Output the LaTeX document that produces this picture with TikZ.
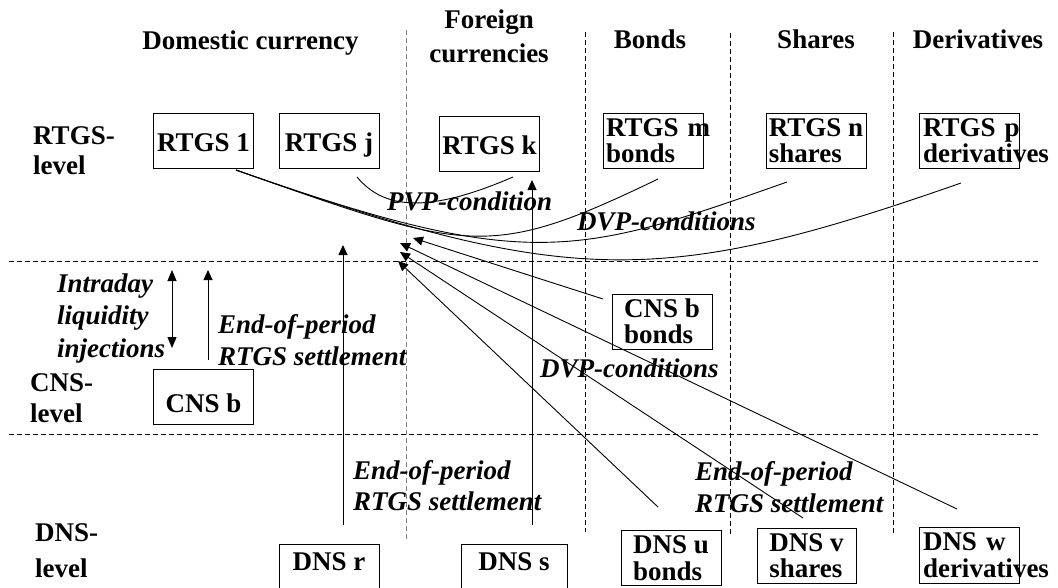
\documentclass[tikz,border=0pt]{standalone}
\usepackage{fontspec}
\setmainfont{Liberation Serif}
\usetikzlibrary{arrows.meta}
\begin{document}
\begin{tikzpicture}[x=1pt,y=-1pt,
  every node/.style={inner sep=0pt},
  hdr/.style={font=\bfseries\fontsize{27}{34}\selectfont, align=center, anchor=base},
  rowlbl/.style={align=left, anchor=base west},
  note/.style={align=left, anchor=base west},
  box/.style={draw, line width=0.9pt, minimum width=100pt, minimum height=55pt, font=\bfseries\fontsize{27}{26.5}\selectfont},
  boxs/.style={draw, line width=0.9pt, minimum width=100pt, anchor=base, font=\bfseries\fontsize{27}{26.5}\selectfont},
  boxc/.style={box, align=center},
  boxl/.style={box, align=left},
  boxw/.style={box, text width=94pt, inner xsep=3pt, align=left},
  gridline/.style={line width=0.8pt, dash pattern=on 5pt off 3pt},
  conn/.style={line width=0.9pt},
  arr/.style={line width=0.9pt, -{Triangle[length=10pt,width=9pt]}},
  darr/.style={line width=0.9pt, {Triangle[length=11pt,width=9pt]}-{Triangle[length=11pt,width=9pt]}}
]
\useasboundingbox (0,0) rectangle (1058,587);
\clip (0,0) rectangle (1058,587);

% grid
\draw[gridline, gray] (406,30) -- (406,541);
\draw[gridline] (585,32) -- (585,532);
\draw[gridline] (730,33) -- (730,535);
\draw[gridline] (893,32) -- (893,535);
\draw[gridline] (9,261) -- (1038,261);
\draw[gridline] (9,434) -- (1038,434);

% headers
\node[hdr] (hdom) at (250.5,49) {Domestic currency};
\node[hdr] (hfor) at (489,62) {Foreign\\currencies};
\node[hdr] (hbon) at (650,48) {Bonds};
\node[hdr] (hsha) at (816,48) {Shares};
\node[hdr] (hder) at (978,48) {Derivatives};

% row labels
\node[rowlbl, font=\bfseries\fontsize{27}{30}\selectfont] (lrtgs) at (33,174) {RTGS-\\level};
\node[rowlbl, font=\bfseries\fontsize{27}{31}\selectfont] (lcns) at (30,422) {CNS-\\level};
\node[rowlbl, font=\bfseries\fontsize{27}{36}\selectfont] (ldns) at (35,577) {DNS-\\level};

% RTGS boxes
\node[boxs, text height=38pt, text depth=17pt] (r1) at (203.5,151) {RTGS 1};
\node[boxs, text height=38pt, text depth=17pt] (rj) at (329,151) {RTGS j};
\node[boxs, text height=38pt, text depth=17pt] (rk) at (489.5,154) {RTGS k};
\node[boxw] (rm) at (653,140.5) {\mbox{RTGS m}\\bonds};
\node[boxl] (rn) at (816,140.5) {RTGS n\\shares};
\node[boxw, text width=93pt] (rp) at (969.5,140.5) {\mbox{RTGS p}\\\mbox{derivatives}};

% CNS boxes
\node[boxs, text height=43pt, text depth=12pt] (cb) at (203.5,412) {CNS b};
\node[boxl] (cbb) at (662,321.5) {CNS b\\bonds};

% DNS boxes
\node[boxs, text height=26pt, text depth=20pt] (dr) at (329,570) {DNS r};
\node[boxs, minimum width=106pt, text height=26pt, text depth=20pt] (ds) at (514,570) {DNS s};
\node[boxl] (du) at (671,558) {DNS u\\bonds};
\node[boxl, minimum width=99pt] (dv) at (806.5,555.5) {DNS v\\shares};
\node[boxw, text width=93pt, minimum height=56pt] (dw) at (969.5,555) {\mbox{DNS w}\\\mbox{derivatives}};

% labels
\node[note, font=\bfseries\itshape\fontsize{27}{32}\selectfont] (pvp) at (387,210) {PVP-condition};
\node[note, font=\bfseries\itshape\fontsize{27}{32}\selectfont] (dvp1) at (577,230) {DVP-conditions};
\node[note, font=\bfseries\itshape\fontsize{27}{32}\selectfont] (dvp2) at (540,377) {DVP-conditions};
\node[note, font=\bfseries\itshape\fontsize{27}{32.5}\selectfont] (intra) at (57,357) {Intraday\\liquidity\\injections};
\node[note, font=\bfseries\itshape\fontsize{27}{32}\selectfont] (eop1) at (218,365) {End-of-period\\RTGS settlement};
\node[note, font=\bfseries\itshape\fontsize{27}{31}\selectfont] (eop2) at (353,510) {End-of-period\\RTGS settlement};
\node[note, font=\bfseries\itshape\fontsize{27}{32}\selectfont] (eop3) at (695,512) {End-of-period\\RTGS settlement};

% connector end points
\coordinate (s1) at (236,170);
\coordinate (ejp) at (357,177);
\coordinate (ekp) at (513,177);
\coordinate (em) at (658,179);
\coordinate (en) at (787,182);
\coordinate (ep) at (961,183);
\coordinate (iT) at (172,270);
\coordinate (iB) at (172,348);
\coordinate (cS) at (208,360);
\coordinate (cT) at (208,270);
\coordinate (rS) at (343,525);
\coordinate (rT) at (343,245);
\coordinate (sS) at (532,525);
\coordinate (sT) at (532,180);
\coordinate (uS) at (658,507);
\coordinate (uT) at (398,261);
\coordinate (vS) at (803,518);
\coordinate (vT) at (400,252);
\coordinate (wS) at (957,509);
\coordinate (wT) at (400,243);
\coordinate (bS) at (603,299);
\coordinate (bT) at (413,238);

% PVP and DVP curves
\draw[conn] (ejp) .. controls (383,208) and (425,215) .. (ekp);
\draw[conn] (s1) .. controls (468,252) and (488,261) .. (em);
\draw[conn] (s1) .. controls (528,273) and (577,256) .. (en);
\draw[conn] (s1) .. controls (568,287) and (661,288) .. (ep);

% arrows
\draw[darr] (iT) -- (iB);
\draw[arr] (cS) -- (cT);
\draw[arr] (rS) -- (rT);
\draw[arr] (sS) -- (sT);
\draw[arr] (uS) -- (uT);
\draw[arr] (vS) -- (vT);
\draw[arr] (wS) -- (wT);
\draw[arr] (bS) -- (bT);
\end{tikzpicture}
\end{document}
